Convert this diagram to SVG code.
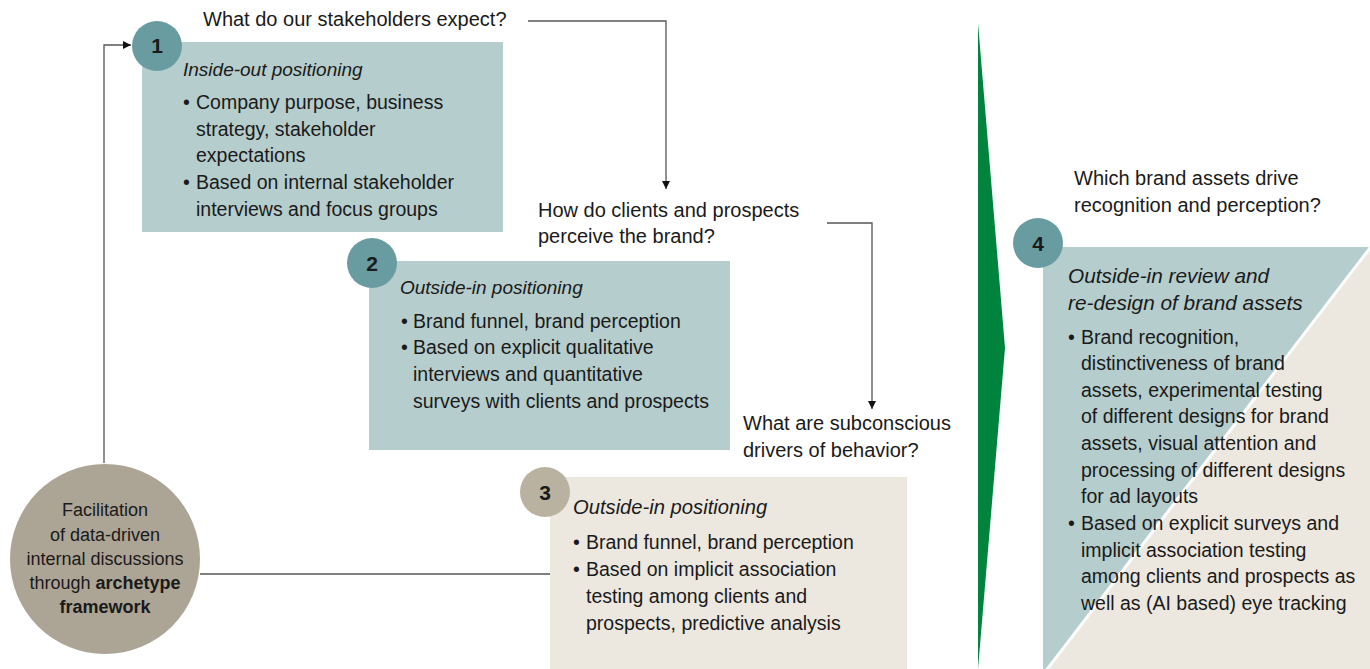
<svg xmlns="http://www.w3.org/2000/svg" width="1370" height="669" viewBox="0 0 1370 669">
<style>
text{font-family:"Liberation Sans",Arial,sans-serif;fill:#1a1a1a}
.q{font-size:20px}
.b{font-size:19.5px}
.h{font-size:19px;font-style:italic}
.n{font-size:21px;font-weight:bold;text-anchor:middle}
.teal{fill:#b5cdcc}
.beige{fill:#ece8df}
.ct{fill:#689ca0}
.cb{fill:#b9b2a0}
.conn{fill:none;stroke:#555;stroke-width:1.3}
</style>
<defs>
<marker id="ah" viewBox="0 0 10 10" refX="10" refY="5" markerWidth="8" markerHeight="8" markerUnits="userSpaceOnUse" orient="auto">
<path d="M0,0 L10,5 L0,10 z" fill="#111"/>
</marker>
</defs>

<g id="green-arrow">
<polygon points="978,23 1005,348 978,669" fill="#00843d"/>
</g>

<g id="connectors">
<polyline class="conn" points="104,463 104,45 131,45" marker-end="url(#ah)"/>
<polyline class="conn" points="528,21 666,21 666,189" marker-end="url(#ah)"/>
<polyline class="conn" points="827,223 872,223 872,409" marker-end="url(#ah)"/>
<line class="conn" x1="200" y1="574" x2="550" y2="574"/>
</g>

<g id="q1"><text class="q" x="203" y="26">What do our stakeholders expect?</text></g>
<g id="q2"><text class="q" x="538" y="217">How do clients and prospects</text><text class="q" x="538" y="243">perceive the brand?</text></g>
<g id="q3"><text class="q" x="743" y="430">What are subconscious</text><text class="q" x="743" y="457">drivers of behavior?</text></g>
<g id="q4"><text class="q" x="1074" y="185">Which brand assets drive</text><text class="q" x="1074" y="212">recognition and perception?</text></g>

<g id="node1">
<rect class="teal" x="142" y="42" width="361" height="190"/>
<circle class="ct" cx="157" cy="46" r="25"/>
<text class="n" x="157" y="53">1</text>
<text class="h" x="183" y="76">Inside-out positioning</text>
<text class="b"><tspan x="183" y="109">•</tspan><tspan x="196" y="109">Company purpose, business</tspan><tspan x="196" y="136">strategy, stakeholder</tspan><tspan x="196" y="162">expectations</tspan><tspan x="183" y="189">•</tspan><tspan x="196" y="189">Based on internal stakeholder</tspan><tspan x="196" y="216">interviews and focus groups</tspan></text>
</g>

<g id="node2">
<rect class="teal" x="369" y="261" width="361" height="189"/>
<circle class="ct" cx="372" cy="263" r="25"/>
<text class="n" x="372" y="271">2</text>
<text class="h" x="400" y="294">Outside-in positioning</text>
<text class="b"><tspan x="401" y="328">•</tspan><tspan x="413" y="328">Brand funnel, brand perception</tspan><tspan x="401" y="354">•</tspan><tspan x="413" y="354">Based on explicit qualitative</tspan><tspan x="413" y="381">interviews and quantitative</tspan><tspan x="413" y="408">surveys with clients and prospects</tspan></text>
</g>

<g id="node3">
<rect class="beige" x="550" y="477" width="357" height="192"/>
<circle class="cb" cx="545" cy="492" r="25"/>
<text class="n" x="545" y="500">3</text>
<text class="h" x="573" y="514" style="font-size:20.2px">Outside-in positioning</text>
<text class="b"><tspan x="573" y="549">•</tspan><tspan x="586" y="549">Brand funnel, brand perception</tspan><tspan x="573" y="576">•</tspan><tspan x="586" y="576">Based on implicit association</tspan><tspan x="586" y="603">testing among clients and</tspan><tspan x="586" y="630">prospects, predictive analysis</tspan></text>
</g>

<g id="node4">
<rect class="teal" x="1043" y="247" width="327" height="422"/>
<polygon class="beige" points="1373,244 1373,672 1045,672" stroke="#fff" stroke-width="3"/>
<circle class="ct" cx="1038" cy="243" r="25"/>
<text class="n" x="1038" y="251">4</text>
<text class="h" x="1068" y="283" style="font-size:20.8px">Outside-in review and</text>
<text class="h" x="1068" y="310" style="font-size:20.8px">re-design of brand assets</text>
<text class="b"><tspan x="1068" y="344">•</tspan><tspan x="1081" y="344">Brand recognition,</tspan><tspan x="1081" y="370">distinctiveness of brand</tspan><tspan x="1081" y="397">assets, experimental testing</tspan><tspan x="1081" y="423">of different designs for brand</tspan><tspan x="1081" y="450">assets, visual attention and</tspan><tspan x="1081" y="477">processing of different designs</tspan><tspan x="1081" y="503">for ad layouts</tspan><tspan x="1068" y="530">•</tspan><tspan x="1081" y="530">Based on explicit surveys and</tspan><tspan x="1081" y="557">implicit association testing</tspan><tspan x="1081" y="583">among clients and prospects as</tspan><tspan x="1081" y="610">well as (AI based) eye tracking</tspan></text>
</g>

<g id="node5">
<circle cx="105" cy="559" r="95" fill="#aca595"/>
<text style="font-size:18px;text-anchor:middle"><tspan x="105" y="516">Facilitation</tspan><tspan x="105" y="541">of data-driven</tspan><tspan x="105" y="565">internal discussions</tspan><tspan x="105" y="589">through <tspan font-weight="bold">archetype</tspan></tspan><tspan x="105" y="613" font-weight="bold">framework</tspan></text>
</g>
</svg>
